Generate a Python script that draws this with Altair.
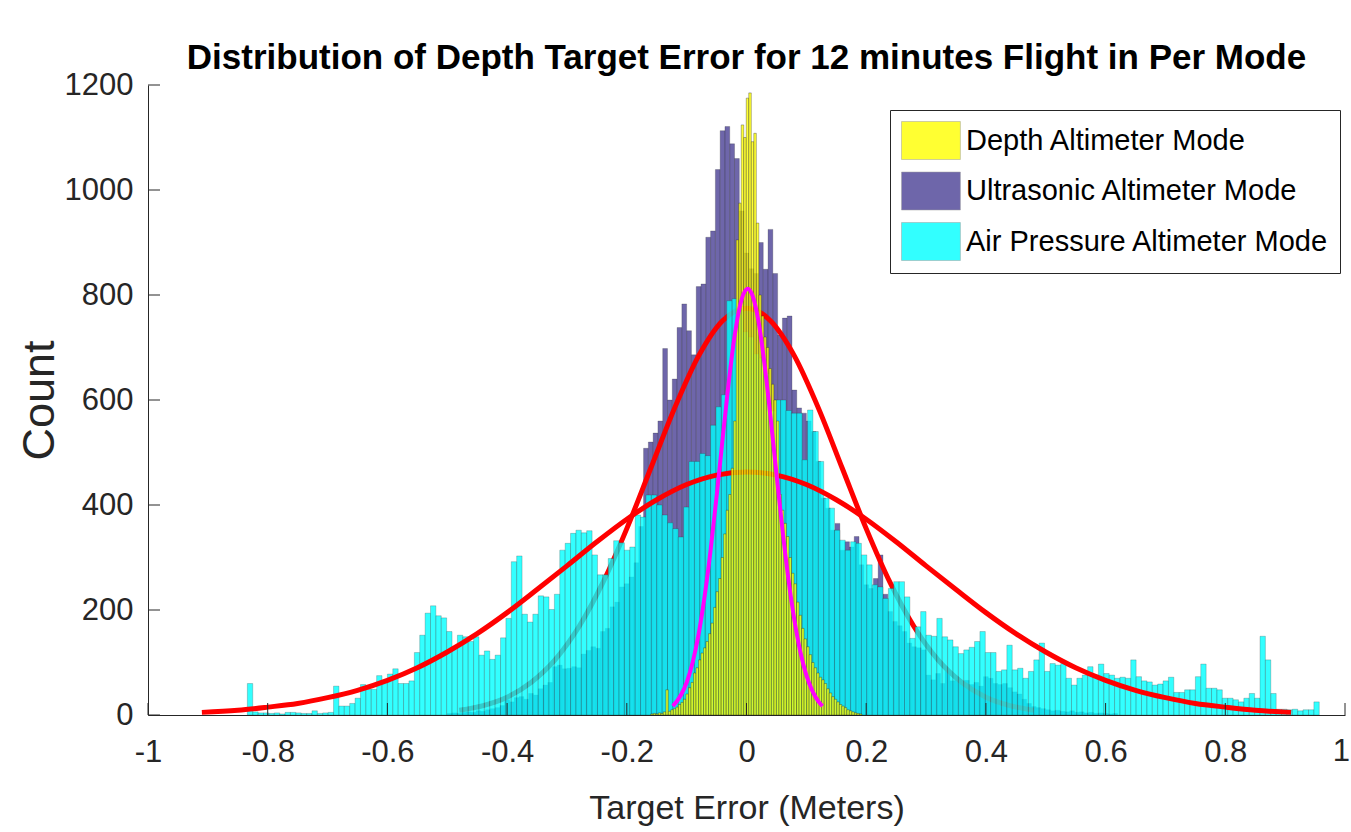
import altair as alt
import pandas as pd

# ---------------- data ----------------
modes = ["Depth Altimeter Mode", "Ultrasonic Altimeter Mode", "Air Pressure Altimeter Mode"]
mode_colors = ["#ffff00", "#4a4095", "#00ffff"]

# Air pressure histogram (bin width 0.009 starting at -0.834)
air_start = -0.834
air_width = 0.009
air_counts = [
    60, 6, 4, 4, 3, 4, 2, 5, 5, 4, 3, 3, 8, 3, 4, 5, 55, 17, 17, 22,
    32, 58, 49, 49, 75, 63, 78, 88, 60, 60, 65, 119, 152, 194, 208, 189, 185, 159, 130, 152,
    149, 140, 149, 114, 122, 106, 114, 147, 184, 292, 303, 192, 177, 192, 227, 225, 201, 230, 314, 327,
    346, 352, 347, 351, 305, 267, 267, 298, 332, 328, 314, 320, 381, 377, 419, 419, 400, 381, 366, 355,
    339, 396, 483, 483, 498, 494, 552, 587, 610, 789, 793, 778, 730, 720, 688, 680, 650, 579, 600, 600,
    580, 575, 575, 486, 581, 540, 483, 413, 394, 352, 333, 314, 330, 327, 305, 286, 248, 244, 222, 241,
    254, 254, 225, 146, 168, 197, 152, 150, 184, 149, 143, 130, 117, 124, 129, 140, 159, 119, 119, 83,
    86, 133, 86, 89, 70, 83, 105, 137, 83, 98, 95, 98, 70, 57, 70, 76, 92, 76, 97, 79,
    76, 70, 72, 70, 105, 73, 65, 63, 57, 59, 65, 72, 43, 43, 48, 48, 73, 97, 51, 51,
    48, 32, 32, 29, 25, 32, 41, 32, 150, 105, 41, 11, 11, 10, 11, 8, 10, 10, 25,
]

# Ultrasonic histogram (bin width 0.008 starting at -0.5)
ultra_start = -0.5
ultra_width = 0.008
ultra_counts = [
    3, 4, 3, 5, 6, 5, 8, 7, 10, 12, 14, 18, 29, 25, 33, 35, 30, 41, 38, 50,
    57, 62, 92, 95, 88, 89, 92, 90, 116, 123, 130, 127, 159, 165, 206, 215, 244, 250, 263, 290,
    359, 508, 520, 537, 560, 698, 600, 640, 738, 783, 732, 686, 816, 821, 910, 922, 1039, 1113, 1121, 1088,
    1060, 960, 880, 850, 841, 900, 849, 925, 841, 724, 756, 760, 619, 585, 575, 560, 540, 483, 413, 394,
    352, 365, 314, 330, 320, 340, 286, 248, 241, 260, 305, 230, 197, 178, 170, 159, 137, 130, 128, 124,
    76, 67, 79, 60, 86, 65, 68, 62, 66, 58, 62, 55, 73, 70, 60, 58, 60, 52, 44, 40,
    30, 22, 16, 14, 12, 10, 8, 9, 7, 6, 8, 5, 6, 4, 5, 3, 4, 3, 2, 3,
]

# Depth histogram (bin width 0.0042 starting at -0.16)
depth_start = -0.16
depth_width = 0.0042
depth_counts = [
    2, 3, 2, 4, 3, 6, 48, 7, 10, 12, 15, 20, 24, 30, 40, 52, 62, 80, 90, 105,
    118, 128, 140, 155, 175, 205, 235, 260, 300, 345, 390, 420, 470, 560, 905, 975, 1124, 1100, 1175, 1185,
    1092, 1108, 937, 800, 760, 720, 700, 660, 630, 600, 560, 420, 390, 365, 340, 300, 270, 250, 215, 190,
    165, 145, 130, 115, 100, 90, 80, 72, 67, 60, 50, 42, 35, 30, 25, 20, 17, 14, 10, 8,
    6, 4, 3, 2,
]

# Fitted curves
air_fit_x = [-0.91, -0.85, -0.8, -0.75, -0.7, -0.65, -0.6, -0.55, -0.5, -0.45, -0.4, -0.35, -0.3, -0.25,
             -0.2, -0.15, -0.1, -0.05, 0.0, 0.05, 0.1, 0.15, 0.2, 0.25, 0.3, 0.35, 0.4, 0.45, 0.5,
             0.55, 0.6, 0.65, 0.7, 0.75, 0.8, 0.85, 0.91]
air_fit_y = [5, 9, 15, 22, 33, 47, 66, 90, 120, 155, 195, 239, 284, 330,
             373, 410, 439, 457, 463, 457, 439, 410, 373, 330, 284, 239, 195, 155, 120,
             90, 66, 47, 33, 22, 15, 9, 5]

ultra_fit_x = [-0.48, -0.44, -0.4, -0.36, -0.32, -0.28, -0.24, -0.2, -0.16, -0.12, -0.08, -0.04, 0.0,
               0.04, 0.08, 0.12, 0.16, 0.2, 0.24, 0.28, 0.32, 0.36, 0.4, 0.44, 0.48]
ultra_fit_y = [9, 18, 34, 62, 105, 168, 252, 355, 470, 585, 684, 751, 775,
               751, 684, 585, 470, 355, 252, 168, 105, 62, 34, 18, 9]

depth_fit_x = [-0.123, -0.11, -0.1, -0.09, -0.08, -0.07, -0.06, -0.05, -0.04, -0.03, -0.02, -0.01, 0.0,
               0.002, 0.01, 0.02, 0.03, 0.04, 0.05, 0.06, 0.07, 0.08, 0.09, 0.1, 0.11, 0.12, 0.127]
depth_fit_y = [17, 37, 62, 100, 154, 226, 314, 416, 525, 631, 721, 784, 811,
               812, 799, 750, 669, 569, 460, 354, 259, 181, 120, 76, 46, 26, 17]

x_ticks = [-1, -0.8, -0.6, -0.4, -0.2, 0, 0.2, 0.4, 0.6, 0.8, 1]
y_ticks = [0, 200, 400, 600, 800, 1000, 1200]
last_x_tick = [1]


def hist_df(start, width, counts, mode):
    return pd.DataFrame({
        "start": [start + i * width for i in range(len(counts))],
        "end": [start + (i + 1) * width for i in range(len(counts))],
        "count": counts,
        "mode": mode,
    })


air_df = hist_df(air_start, air_width, air_counts, modes[2])
ultra_df = hist_df(ultra_start, ultra_width, ultra_counts, modes[1])
depth_df = hist_df(depth_start, depth_width, depth_counts, modes[0])

# ---------------- styling ----------------
FONT = "'Liberation Sans', Arial, Helvetica, sans-serif"
AX = "#262626"
TICK_FS = 31

xscale = alt.Scale(domain=[-1, 1], nice=False, zero=False)
yscale = alt.Scale(domain=[0, 1200], nice=False)

xaxis = alt.Axis(values=x_ticks, ticks=False, grid=False, domainColor=AX, domainWidth=1,
                 labelExpr="datum.value == 1 ? '' : replace(format(datum.value, '.1~f'), '\u2212', '-')",
                 labelFont=FONT, labelFontSize=TICK_FS, labelColor=AX, labelPadding=22,
                 labelFlush=False, labelOverlap=False,
                 title="Target Error (Meters)", titleFont=FONT, titleFontSize=34,
                 titleFontWeight="normal", titleColor=AX, titlePadding=24)
yaxis = alt.Axis(values=y_ticks, ticks=False, grid=False, domainColor=AX, domainWidth=1,
                 format="d", labelFont=FONT, labelFontSize=TICK_FS, labelColor=AX, labelPadding=15,
                 labelFlush=False, labelOverlap=False,
                 title="Count", titleFont=FONT, titleFontSize=45, titleFontWeight="normal",
                 titleColor=AX, titlePadding=2)


def X(field):
    return alt.X(field + ":Q", scale=xscale, axis=xaxis)


def Y(field):
    return alt.Y(field + ":Q", scale=yscale, axis=yaxis, stack=None)


color = alt.Color("mode:N", scale=alt.Scale(domain=modes, range=mode_colors),
                  legend=alt.Legend(title=None, orient="none", legendX=742, legendY=25))


def bars(df, edge_opacity=0.45):
    return alt.Chart(df).mark_rect(stroke=AX, strokeWidth=0.5, strokeOpacity=edge_opacity,
                                   fillOpacity=0.8).encode(
        x=X("start"), x2="end", y=Y("count"), y2=alt.datum(0), color=color)


def curve(xs, ys, col, w):
    df = pd.DataFrame({"x": xs, "y": ys})
    return alt.Chart(df).mark_line(color=col, strokeWidth=w, interpolate="monotone").encode(
        x=X("x"), y=Y("y"))


xt = alt.Chart(pd.DataFrame({"t": x_ticks})).mark_rule(color=AX, strokeWidth=1).encode(
    x=X("t"), y=alt.value(618), y2=alt.value(630))
yt = alt.Chart(pd.DataFrame({"t": y_ticks})).mark_rule(color=AX, strokeWidth=1).encode(
    y=Y("t"), x=alt.value(0), x2=alt.value(12))
# last x tick label, kept inside the page
last_lbl = alt.Chart(pd.DataFrame({"t": last_x_tick})).mark_text(
    font=FONT, fontSize=TICK_FS, color=AX, align="right", baseline="top", dx=5, dy=22
).encode(x=X("t"), y=alt.value(630), text=alt.Text("t:Q", format="d"))

chart = alt.layer(
    bars(ultra_df),
    curve(ultra_fit_x, ultra_fit_y, "#ff0000", 5),
    bars(air_df),
    curve(air_fit_x, air_fit_y, "#ff0000", 5),
    bars(depth_df, 0.7),
    curve(depth_fit_x, depth_fit_y, "#ff00ff", 4),
    xt, yt, last_lbl,
).properties(
    width=1197, height=630,
    title=alt.TitleParams("Distribution of Depth Target Error for 12 minutes Flight in Per Mode",
                          font=FONT, fontSize=35, fontWeight="bold", color="black",
                          anchor="middle", frame="group", offset=12, dy=19),
    autosize=alt.AutoSizeParams(type="none"),
    padding={"left": 148, "top": 85, "right": 6, "bottom": 117},
    background="white",
).configure_view(strokeWidth=0).configure_legend(
    symbolType="M-1,-1L2.1,-1L2.1,1L-1,1Z", symbolSize=1444,
    symbolStrokeColor="#888888", symbolStrokeWidth=0.5, symbolOpacity=0.8,
    labelFont=FONT, labelFontSize=29, labelColor="black", labelOffset=26,
    strokeColor=AX, fillColor="white", padding=11, rowPadding=9.5, labelLimit=500,
)

chart.save("out.html", embed_options={"renderer": "svg", "actions": False})
